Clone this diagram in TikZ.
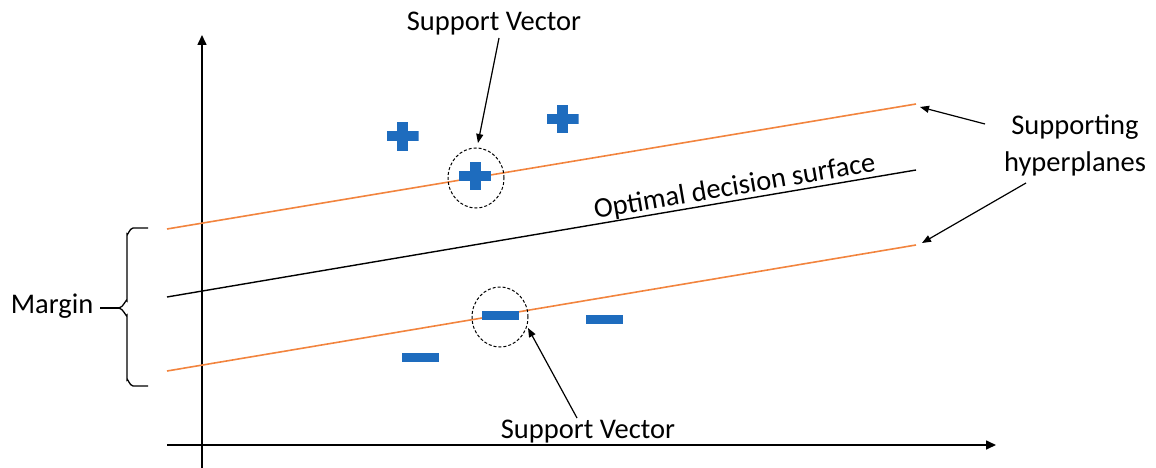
\documentclass[tikz,border=0pt]{standalone}
\usepackage{fontspec}
\setmainfont{Carlito}
\usetikzlibrary{arrows.meta,shapes.geometric}
\definecolor{svblue}{RGB}{30,108,190}
\definecolor{hyperorange}{RGB}{242,132,62}
\begin{document}
\begin{tikzpicture}[x=1pt,y=-1pt,
  lbl/.style={font=\fontsize{28.5}{36}\selectfont, inner sep=0},
  axis/.style={line width=1.6pt, -{Triangle[length=10pt,width=9pt]}},
  hyper/.style={hyperorange, line width=1.6pt},
  decision/.style={black, line width=1.4pt},
  pointer/.style={line width=1.2pt, -{Triangle[length=9pt,width=7pt]}},
  svring/.style={ellipse, draw, dash pattern=on 3pt off 2pt, line width=1pt,
    minimum width=56pt, minimum height=60pt, inner sep=0},
  plusmark/.style={inner sep=0, minimum width=32pt, minimum height=28pt,
    path picture={
      \fill[svblue] ([xshift=-16pt,yshift=-5pt]path picture bounding box.center)
        rectangle ([xshift=16pt,yshift=5pt]path picture bounding box.center);
      \fill[svblue] ([xshift=-5.5pt,yshift=-14pt]path picture bounding box.center)
        rectangle ([xshift=5.5pt,yshift=14pt]path picture bounding box.center);}},
  minusmark/.style={fill=svblue, minimum width=37pt, minimum height=9pt, inner sep=0},
]
\useasboundingbox (0,0) rectangle (1156,468);

% axes
\coordinate (yfoot) at (202,468);
\coordinate (ytip) at (202,35);
\coordinate (xfoot) at (167,445);
\coordinate (xtip) at (996,445);
\draw[axis] (yfoot) -- (ytip);
\draw[axis] (xfoot) -- (xtip);

% hyperplanes
\coordinate (upA) at (167,229);  \coordinate (upB) at (916,104);
\coordinate (midA) at (167,297); \coordinate (midB) at (916,170);
\coordinate (loA) at (167,371);  \coordinate (loB) at (916,245);
\draw[hyper] (upA) -- (upB);
\draw[decision] (midA) -- (midB);
\draw[hyper] (loA) -- (loB);
\node[lbl, anchor=base, rotate=9.62] (surf) at (736,195) {Optimal decision surface};

% positive samples
\node[plusmark] (p1) at (402.5,136.5) {};
\node[plusmark] (p2) at (562.5,119) {};
\node[plusmark] (p3) at (475,176) {};
\node[svring] (ringP) at (476,178) {};

% negative samples
\node[minusmark] (m1) at (420,357.5) {};
\node[minusmark] (m2) at (500,315) {};
\node[minusmark] (m3) at (604,319) {};
\node[svring] (ringM) at (500,317) {};

% support vector labels
\node[lbl, anchor=base] (svtop) at (494,31) {Support Vector};
\node[lbl, anchor=base] (svbot) at (588,438) {Support Vector};
\coordinate (svtopFrom) at (499,38);
\coordinate (svtopTo) at (478,143);
\coordinate (svbotFrom) at (577,418);
\coordinate (svbotTo) at (528,328);
\draw[pointer] (svtopFrom) -- (svtopTo);
\draw[pointer] (svbotFrom) -- (svbotTo);

% supporting hyperplanes label
\node[lbl, align=center, anchor=base] (shl) at (1075,171) {Supporting\\hyperplanes};
\coordinate (shUpFrom) at (985,124);
\coordinate (shUpTo) at (920,107);
\coordinate (shLoFrom) at (1026,183);
\coordinate (shLoTo) at (922,243);
\draw[pointer] (shUpFrom) -- (shUpTo);
\draw[pointer] (shLoFrom) -- (shLoTo);

% margin brace
\node[lbl, anchor=base] (margin) at (52,313) {Margin};
\coordinate (braceTip) at (119,308);
\draw[line width=1.3pt] (148,228) -- (133,228) to[out=180,in=270] (127,234)
  -- (127,301) to[out=90,in=0] (braceTip) to[out=0,in=270] (127,315)
  -- (127,380) to[out=90,in=180] (133,386) -- (148,386);
\draw[line width=1.3pt] (100,308) -- (braceTip);
\end{tikzpicture}
\end{document}
